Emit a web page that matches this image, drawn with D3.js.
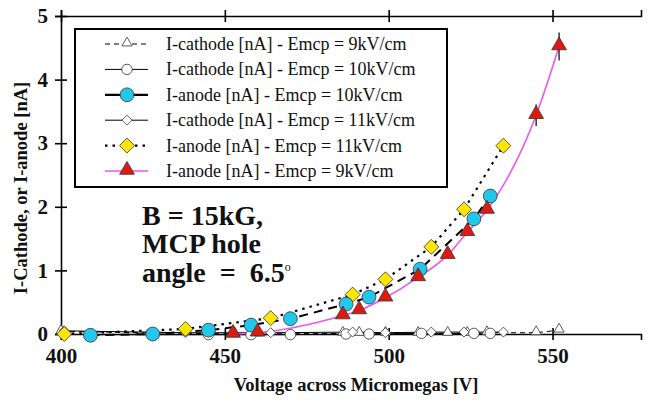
<!DOCTYPE html>
<html>
<head>
<meta charset="utf-8">
<script src="https://cdn.jsdelivr.net/npm/d3@7"></script>
<style>
  body { margin: 0; background: #fff; }
  svg { display: block; }
  svg text { font-family: "Liberation Serif", "Times New Roman", Times, "DejaVu Serif", serif; }
</style>
</head>
<body>
<svg width="652" height="404"></svg>
<script>
// series: voltage [V] and current [nA]
var cath9V = [400, 453, 460, 486, 491, 499, 509, 518, 524, 530, 545, 552]
var cath9I = [0.04, 0, 0, 0.01, 0.01, 0.01, 0.01, 0.01, 0.01, 0.02, 0.02, 0.06]

var cath10V = [409, 428, 445, 458, 470, 487, 494, 510, 526, 531]
var cath10I = [-0.01, -0.01, -0.01, -0.01, -0.01, 0, 0, 0.01, 0.01, 0.01]

var anode10V = [409, 428, 445, 458, 470, 487, 494, 509.6, 526, 531]
var anode10I = [-0.02, 0, 0.06, 0.14, 0.24, 0.47, 0.58, 1.02, 1.81, 2.17]

var cath11V = [401, 438, 464, 489, 499, 513, 523, 535]
var cath11I = [0.05, 0.02, 0.02, 0.03, 0.02, 0.03, 0.03, 0.03]

var anode11V = [401, 438, 464, 489, 499, 513, 523, 535]
var anode11I = [0, 0.08, 0.25, 0.62, 0.86, 1.37, 1.96, 2.96]

var anode9V = [452.5, 460, 486, 491, 499, 509, 518, 524, 530, 545, 552]
var anode9I = [0, 0.02, 0.29, 0.37, 0.57, 0.89, 1.24, 1.6, 1.95, 3.44, 4.52]
var anode9Err = [0, 0, 0, 0, 0, 0, 0, 0, 0, 0.17, 0.22]

var xTicks = [400, 450, 500, 550]
var yTicks = [0, 1, 2, 3, 4, 5]

var legendLabels = [
  'I-cathode [nA] - Emcp = 9kV/cm',
  'I-cathode [nA] - Emcp = 10kV/cm',
  'I-anode [nA] - Emcp = 10kV/cm',
  'I-cathode [nA] - Emcp = 11kV/cm',
  'I-anode [nA] - Emcp = 11kV/cm',
  'I-anode [nA] - Emcp = 9kV/cm'
]

var serif = '"Liberation Serif", "Times New Roman", Times, "DejaVu Serif", serif'

var svg = d3.select('svg')

var x = d3.scaleLinear().domain([400, 577]).range([61, 641])
var y = d3.scaleLinear().domain([0, 5]).range([334, 16])

var zip = (vs, is) => vs.map((v, i) => [v, is[i]])

// diamonds are squares turned 45 degrees
var diamond = s => {
  var h = s / 2
  return 'M0,' + (-h) + 'L' + h + ',0L0,' + h + 'L' + (-h) + ',0Z'
}

// marker shapes
var sym = {
  triSmall: d3.symbol().type(d3.symbolTriangle).size(45)(),
  circSmall: d3.symbol().type(d3.symbolCircle).size(85)(),
  diaSmall: diamond(10),
  circBig: d3.symbol().type(d3.symbolCircle).size(150)(),
  diaBig: diamond(15),
  triBig: d3.symbol().type(d3.symbolTriangle).size(95)()
}

var series = [
  {data: zip(cath9V, cath9I), line: {stroke: '#000', w: 1, dash: '5,4'}, sym: sym.triSmall, fill: '#fff', dy: -1},
  {data: zip(cath10V, cath10I), line: {stroke: '#000', w: 1, dash: null}, sym: sym.circSmall, fill: '#fff', dy: 0},
  {data: zip(cath11V, cath11I), line: {stroke: '#000', w: 1, dash: null}, sym: sym.diaSmall, fill: '#fff', dy: 0},
  {data: zip(anode11V, anode11I), line: {stroke: '#000', w: 2.2, dash: '2.5,5'}, sym: sym.diaBig, fill: '#ffe600', dy: 0},
  {data: zip(anode10V, anode10I), line: {stroke: '#000', w: 2, dash: '9,6'}, sym: sym.circBig, fill: '#22c8ec', dy: 0},
  {data: zip(anode9V, anode9I), line: {stroke: '#ee55ee', w: 1.6, dash: null, smooth: true}, sym: sym.triBig, fill: '#dd1a10', dy: -1}
]

// axes
var bottomAxis = d3.axisBottom(x).tickValues(xTicks).tickSize(6).tickFormat(d3.format('d'))
var topAxis = d3.axisTop(x).tickValues(xTicks).tickSize(6).tickFormat('')
var leftAxis = d3.axisLeft(y).tickValues(yTicks).tickSize(6).tickFormat(d3.format('d'))

var gx = svg.append('g').attr('transform', 'translate(0,' + y(0) + ')').call(bottomAxis)
var gt = svg.append('g').attr('transform', 'translate(0,' + y(5) + ')').call(topAxis)
var gy = svg.append('g').attr('transform', 'translate(' + x(400) + ',0)').call(leftAxis)

;[gx, gt, gy].forEach(g => {
  g.attr('font-family', serif)
  g.select('.domain').attr('stroke', '#000').attr('stroke-width', 1.6)
  g.selectAll('.tick line').attr('stroke', '#000').attr('stroke-width', 1.6)
  g.selectAll('text').attr('fill', '#111').attr('font-size', 21).attr('font-weight', 'bold')
    .attr('font-family', serif)
})
gx.selectAll('.tick line').attr('y1', -6)
gt.selectAll('.tick line').attr('y1', 6)
gy.selectAll('.tick line').attr('x1', 6)
gx.selectAll('.tick text').attr('y', 14)
gy.selectAll('.tick text').attr('x', -13)

// axis titles
svg.append('text')
  .attr('x', 356).attr('y', 391)
  .attr('text-anchor', 'middle')
  .attr('font-family', serif)
  .attr('font-size', 18.5).attr('font-weight', 'bold').attr('fill', '#111')
  .text('Voltage across Micromegas [V]')

svg.append('text')
  .attr('transform', 'translate(27,188) rotate(-90)')
  .attr('text-anchor', 'middle')
  .attr('font-family', serif)
  .attr('font-size', 18.5).attr('font-weight', 'bold').attr('fill', '#111')
  .text('I-Cathode, or I-anode [nA]')

// lines
series.forEach(s => {
  var gen = d3.line().x(d => x(d[0])).y(d => y(d[1]))
  if (s.line.smooth) gen.curve(d3.curveMonotoneX)
  svg.append('path')
    .datum(s.data)
    .attr('d', gen)
    .attr('fill', 'none')
    .attr('stroke', s.line.stroke)
    .attr('stroke-width', s.line.w)
    .attr('stroke-dasharray', s.line.dash)
})

// error bars on the 9kV anode points
svg.append('g').selectAll('line')
  .data(zip(anode9V, anode9I).map((d, i) => [d[0], d[1], anode9Err[i]]).filter(d => d[2] > 0))
  .join('line')
  .attr('x1', d => x(d[0])).attr('x2', d => x(d[0]))
  .attr('y1', d => y(d[1] - d[2])).attr('y2', d => y(d[1] + d[2]))
  .attr('stroke', '#000').attr('stroke-width', 1.2)

// markers
series.forEach(s => {
  svg.append('g').selectAll('path')
    .data(s.data)
    .join('path')
    .attr('d', s.sym)
    .attr('transform', d => 'translate(' + x(d[0]) + ',' + (y(d[1]) + s.dy) + ')')
    .attr('fill', s.fill)
    .attr('stroke', '#333')
    .attr('stroke-width', 0.8)
})

// legend
var lg = svg.append('g')
lg.append('rect')
  .attr('x', 75).attr('y', 29).attr('width', 372).attr('height', 158)
  .attr('fill', '#fff').attr('stroke', '#000').attr('stroke-width', 2)

var legendLines = [
  {dash: '5,4', w: 1, stroke: '#000'},
  {dash: null, w: 1, stroke: '#000'},
  {dash: null, w: 2.2, stroke: '#000'},
  {dash: null, w: 1, stroke: '#000'},
  {dash: '2.5,5', w: 2.2, stroke: '#000'},
  {dash: null, w: 1.6, stroke: '#ee55ee'}
]
var legendSeries = [series[0], series[1], series[4], series[2], series[3], series[5]]

legendLabels.forEach((lab, i) => {
  var ly = 44 + i * 25.4
  lg.append('line')
    .attr('x1', 105).attr('x2', 148).attr('y1', ly).attr('y2', ly)
    .attr('stroke', legendLines[i].stroke)
    .attr('stroke-width', legendLines[i].w)
    .attr('stroke-dasharray', legendLines[i].dash)
  lg.append('path')
    .attr('d', legendSeries[i].sym)
    .attr('transform', 'translate(127,' + (ly + legendSeries[i].dy) + ')')
    .attr('fill', legendSeries[i].fill)
    .attr('stroke', '#333').attr('stroke-width', 0.8)
  lg.append('text')
    .attr('x', 166).attr('y', ly + 6)
    .attr('font-family', serif)
    .attr('font-size', 18).attr('fill', '#111')
    .text(lab)
})

// annotation
var note = svg.append('text')
  .attr('font-family', serif)
  .attr('font-size', 28).attr('font-weight', 'bold').attr('fill', '#111')
note.append('tspan').attr('x', 142).attr('y', 225).text('B = 15kG,')
note.append('tspan').attr('x', 142).attr('y', 253).text('MCP hole')
note.append('tspan').attr('x', 142).attr('y', 282).attr('xml:space', 'preserve').text('angle  =  6.5')
note.append('tspan').attr('dy', -11).attr('font-size', 12).attr('font-weight', 'normal').text('o')
</script>
</body>
</html>
